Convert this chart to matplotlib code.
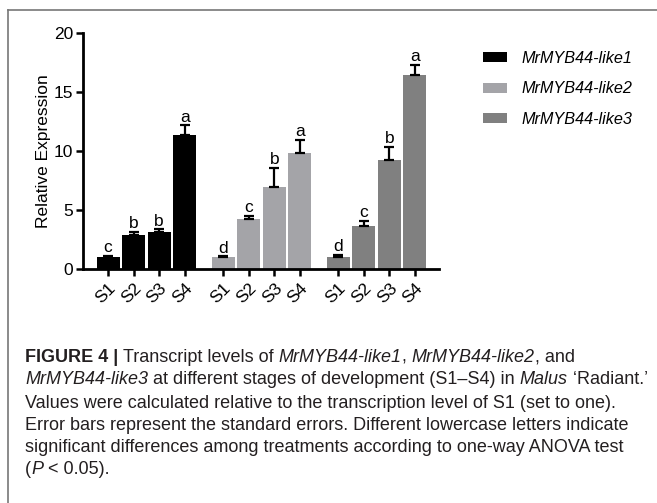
import matplotlib
matplotlib.use("Agg")
import matplotlib.pyplot as plt
from matplotlib.lines import Line2D
import matplotlib.transforms as mtransforms
import numpy as np

plt.rcParams['font.family'] = ['Liberation Sans', 'DejaVu Sans']

stages = ["S1", "S2", "S3", "S4"]
series_names = ["MrMYB44-like1", "MrMYB44-like2", "MrMYB44-like3"]
like1 = [1.0, 2.9, 3.15, 11.35]
like1_err = [0.13, 0.25, 0.22, 0.85]
like2 = [1.0, 4.25, 6.95, 9.87]
like2_err = [0.08, 0.25, 1.65, 1.08]
like3 = [1.05, 3.65, 9.23, 16.45]
like3_err = [0.18, 0.42, 1.15, 0.85]
like1_letters = ["c", "b", "b", "a"]
like2_letters = ["d", "c", "b", "a"]
like3_letters = ["d", "c", "b", "a"]
colors = ["#000000", "#a4a4a8", "#808080"]

W, H = 657, 503
fig = plt.figure(figsize=(W / 100, H / 100), dpi=100)

def fx(px):
    return px / W

def fy(py):
    return 1 - py / H

# frame lines (top and left)
fig.add_artist(Line2D([fx(8), 1.0], [fy(10), fy(10)], color="#777777", lw=1.2, transform=fig.transFigure))
fig.add_artist(Line2D([fx(8), fx(8)], [fy(10), 0.0], color="#777777", lw=1.2, transform=fig.transFigure))

ax = fig.add_axes([fx(83), fy(269), fx(439) - fx(83), fy(33.3) - fy(269)])

chart_fs = 12.5
values = [like1, like2, like3]
errs = [like1_err, like2_err, like3_err]
letters = [like1_letters, like2_letters, like3_letters]
group_step = 4.5
xticks, xlabels = [], []
for g in range(3):
    xs = np.arange(4) + g * group_step
    ax.bar(xs, values[g], width=0.9, color=colors[g], label=series_names[g], zorder=2)
    ax.errorbar(xs, values[g], yerr=[np.zeros(4), errs[g]], fmt="none", ecolor="black",
                elinewidth=1.6, capsize=3.8, capthick=1.6, zorder=3)
    for x, v, e, l in zip(xs, values[g], errs[g], letters[g]):
        ax.annotate(l, (x, v + e), xytext=(0, 0.5), textcoords="offset points",
                    ha="center", va="bottom", fontsize=chart_fs)
    xticks.extend(xs)
    xlabels.extend(stages)

ax.set_xlim(-0.98, 2 * group_step + 3 + 0.94)
ax.set_ylim(0, 20)
ax.set_yticks([0, 5, 10, 15, 20])
ax.set_xticks(xticks)
ax.set_xticklabels(xlabels, rotation=45, ha="right", va="top", rotation_mode="anchor", fontsize=chart_fs)
offset = mtransforms.ScaledTranslation(3 / 100, -2 / 100, fig.dpi_scale_trans)
for lab in ax.get_xticklabels():
    lab.set_transform(lab.get_transform() + offset)
ax.tick_params(axis="both", width=1.8, length=5, labelsize=chart_fs, color="black")
ax.tick_params(axis="x", pad=3)
ax.tick_params(axis="y", pad=2)
for s in ["top", "right"]:
    ax.spines[s].set_visible(False)
for s in ["left", "bottom"]:
    ax.spines[s].set_linewidth(2.0)
ax.set_ylabel("Relative Expression", fontsize=chart_fs)
ax.yaxis.set_label_coords((51 - 83) / (439 - 83), 0.5)

leg = ax.legend(loc="upper left", bbox_to_anchor=(fx(483), fy(51)), bbox_transform=fig.transFigure,
                frameon=False, handlelength=1.45, handleheight=0.55, handletextpad=0.9,
                labelspacing=0.95, borderaxespad=0, borderpad=0,
                prop={"style": "italic", "size": 11.7})

# caption
cap_color = "#231f20"
cap_size = 13.0
lines = [
    [("FIGURE 4 | ", "bold"), ("Transcript levels of ", "normal"), ("MrMYB44-like1", "italic"),
     (", ", "normal"), ("MrMYB44-like2", "italic"), (", and", "normal")],
    [("MrMYB44-like3", "italic"), (" at different stages of development (S1\u2013S4) in ", "normal"),
     ("Malus", "italic"), (" \u2018Radiant.\u2019", "normal")],
    [("Values were calculated relative to the transcription level of S1 (set to one).", "normal")],
    [("Error bars represent the standard errors. Different lowercase letters indicate", "normal")],
    [("significant differences among treatments according to one-way ANOVA test", "normal")],
    [("(", "normal"), ("P", "italic"), (" < 0.05).", "normal")],
]
line_y = [357, 380, 403, 425, 447, 469]
renderer = fig.canvas.get_renderer()
for runs, y in zip(lines, line_y):
    x = 25
    for text, style in runs:
        kw = dict(fontsize=cap_size, color=cap_color, va="center", ha="left")
        if style == "bold":
            kw["fontweight"] = "bold"
        elif style == "italic":
            kw["fontstyle"] = "italic"
        t = fig.text(fx(x), fy(y), text, **kw)
        bb = t.get_window_extent(renderer=renderer)
        x += bb.width

fig.savefig("out.png", dpi=100)
